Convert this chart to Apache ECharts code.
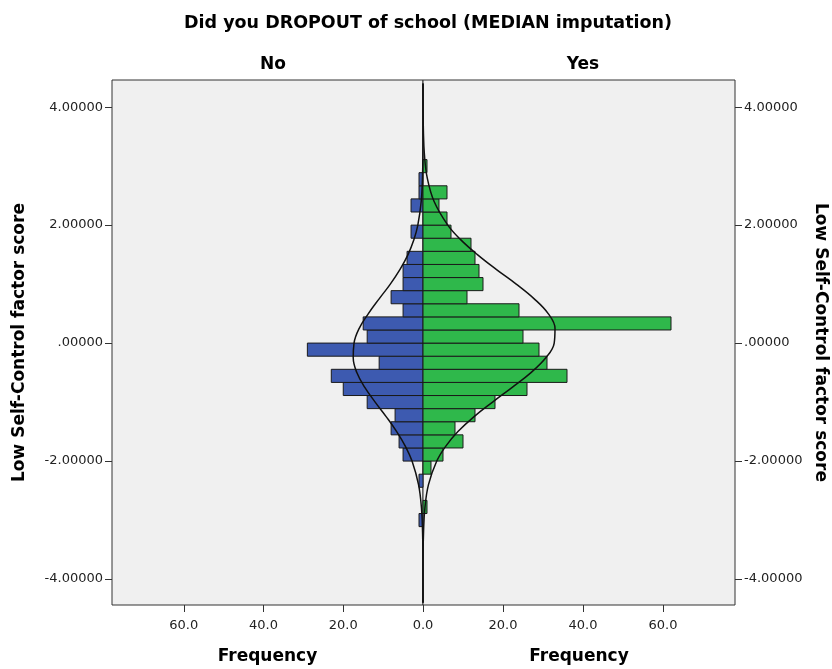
<!DOCTYPE html>
<html>
<head>
<meta charset="utf-8">
<script src="https://cdn.jsdelivr.net/npm/echarts@6/dist/echarts.min.js"></script>
<style>
html,body{margin:0;padding:0;background:#fff;}
#chart{width:832px;height:669px;}
</style>
</head>
<body>
<div id="chart"></div>
<script>
// ---- data ----
const titleText = 'Did you DROPOUT of school (MEDIAN imputation)';
const groups = ['No', 'Yes'];
const binWidth = 0.2222;
const binLow = [-3.1111, -2.8889, -2.6667, -2.4444, -2.2222, -2.0, -1.7778, -1.5556, -1.3333, -1.1111,
  -0.8889, -0.6667, -0.4444, -0.2222, 0.0, 0.2222, 0.4444, 0.6667, 0.8889, 1.1111,
  1.3333, 1.5556, 1.7778, 2.0, 2.2222, 2.4444, 2.6667, 2.8889];
const countNo = [1, 0, 0, 1, 0, 5, 6, 8, 7, 14, 20, 23, 11, 29, 14, 15, 5, 8, 5, 5, 4, 0, 3, 0, 3, 1, 1, 0];
const countYes = [0, 1, 0, 0, 2, 5, 10, 8, 13, 18, 26, 36, 31, 29, 25, 62, 24, 11, 15, 14, 13, 12, 7, 6, 4, 6, 0, 1];
// normal curves: score positions and curve frequency
const curveY = [-4.4, -4.0, -3.6, -3.2, -2.8, -2.4, -2.0, -1.75, -1.5, -1.25, -1.0, -0.75, -0.5, -0.25, 0, 0.25, 0.5, 0.75, 1.0, 1.25, 1.5, 1.75, 2.0, 2.4, 2.8, 3.2, 3.6, 4.0, 4.4];
const curveNo = [0.0, 0.005, 0.03, 0.11, 0.38, 1.12, 2.75, 4.41, 6.6, 9.2, 12.0, 14.6, 16.6, 17.5, 17.3, 16.0, 13.7, 11.0, 8.2, 5.76, 3.76, 2.29, 1.30, 0.45, 0.13, 0.03, 0.007, 0.001, 0.0];
const curveYes = [0.001, 0.007, 0.034, 0.135, 0.47, 1.37, 3.44, 5.66, 8.74, 12.7, 17.4, 22.3, 27.0, 30.7, 32.8, 33.0, 31.3, 27.8, 23.3, 18.3, 13.6, 9.47, 6.2, 2.78, 1.06, 0.35, 0.097, 0.023, 0.005];
const yTicks = [-4, -2, 0, 2, 4];
const xTicksLeft = [0, 20, 40, 60];
const xTicksRight = [20, 40, 60];
const yRange = [-4.44, 4.46];
const xMax = 78;

// ---- chart ----
const FONT = '"DejaVu Sans", Verdana, sans-serif';
const blue = '#3d5ab0';
const green = '#2fb84b';
const frame = '#333333';

function fmtY(v) {
  if (Math.abs(v) < 1e-9) return '.00000';
  return v.toFixed(5);
}

function barData(counts) {
  const out = [];
  for (let i = 0; i < binLow.length; i++) {
    if (counts[i] > 0) out.push([binLow[i], binLow[i] + binWidth, counts[i]]);
  }
  return out;
}

function makeRender(color) {
  return function (params, api) {
    const lo = api.value(0), hi = api.value(1), c = api.value(2);
    const p0 = api.coord([0, lo]);
    const p1 = api.coord([c, hi]);
    return {
      type: 'rect',
      shape: {
        x: Math.min(p0[0], p1[0]),
        y: Math.min(p0[1], p1[1]),
        width: Math.abs(p1[0] - p0[0]),
        height: Math.abs(p1[1] - p0[1])
      },
      style: { fill: color, stroke: '#1a1a1a', lineWidth: 1 }
    };
  };
}

function curveData(vals) {
  return curveY.map((y, i) => [vals[i], y]);
}

const chart = echarts.init(document.getElementById('chart'), null, { renderer: 'canvas' });

const tickLabel = { fontFamily: FONT, fontSize: 13, color: '#222' };
const nameStyle = { fontFamily: FONT, fontSize: 17, fontWeight: 'bold', color: '#000' };

function xAxisDef(grid, inverse, labelVals) {
  return {
    type: 'value', gridIndex: grid, inverse: inverse, min: 0, max: xMax,
    splitLine: { show: false },
    axisLine: { show: false, onZero: false },
    axisTick: { show: true, length: 7, lineStyle: { color: frame }, customValues: xTicksLeft },
    axisLabel: Object.assign({ customValues: labelVals, formatter: v => v.toFixed(1), margin: 14 }, tickLabel),
    name: 'Frequency', nameLocation: 'middle', nameGap: 43, nameTextStyle: nameStyle
  };
}

function yAxisDef(grid, pos, rot, gap) {
  return {
    type: 'value', gridIndex: grid, min: yRange[0], max: yRange[1], position: pos,
    splitLine: { show: false },
    axisLine: { show: false, onZero: false },
    axisTick: { show: true, length: 7, lineStyle: { color: frame }, customValues: yTicks },
    axisLabel: Object.assign({ customValues: yTicks, formatter: fmtY, margin: 9 }, tickLabel),
    name: 'Low Self-Control factor score', nameLocation: 'middle', nameRotate: rot, nameGap: gap,
    nameTextStyle: nameStyle
  };
}

const option = {
  backgroundColor: '#ffffff',
  animation: false,
  title: [
    { text: titleText, left: 423, top: 9, textAlign: 'center',
      textStyle: { fontFamily: FONT, fontSize: 17.5, fontWeight: 'bold', color: '#000' } },
    { text: groups[0], left: 268, top: 51, textAlign: 'center', textStyle: nameStyle },
    { text: groups[1], left: 578, top: 51, textAlign: 'center', textStyle: nameStyle }
  ],
  grid: [
    { left: 112, width: 311, top: 80, height: 525, show: true, backgroundColor: '#f0f0f0',
      borderColor: frame, borderWidth: 1, containLabel: false, outerBoundsMode: 'none' },
    { left: 423, width: 312, top: 80, height: 525, show: true, backgroundColor: '#f0f0f0',
      borderColor: frame, borderWidth: 1, containLabel: false, outerBoundsMode: 'none' }
  ],
  xAxis: [
    xAxisDef(0, true, xTicksLeft),
    xAxisDef(1, false, xTicksRight)
  ],
  yAxis: [
    yAxisDef(0, 'left', 90, 84),
    yAxisDef(1, 'right', -90, 77)
  ],
  series: [
    { type: 'custom', name: groups[0], xAxisIndex: 0, yAxisIndex: 0,
      renderItem: makeRender(blue), encode: { x: 2, y: [0, 1] }, data: barData(countNo), z: 2 },
    { type: 'custom', name: groups[1], xAxisIndex: 1, yAxisIndex: 1,
      renderItem: makeRender(green), encode: { x: 2, y: [0, 1] }, data: barData(countYes), z: 2 },
    { type: 'line', xAxisIndex: 0, yAxisIndex: 0, data: curveData(curveNo), smooth: 0.4,
      showSymbol: false, silent: true, lineStyle: { color: '#111', width: 1.5 }, z: 5 },
    { type: 'line', xAxisIndex: 1, yAxisIndex: 1, data: curveData(curveYes), smooth: 0.4,
      showSymbol: false, silent: true, lineStyle: { color: '#111', width: 1.5 }, z: 5 }
  ]
};
chart.setOption(option);
</script>
</body>
</html>
